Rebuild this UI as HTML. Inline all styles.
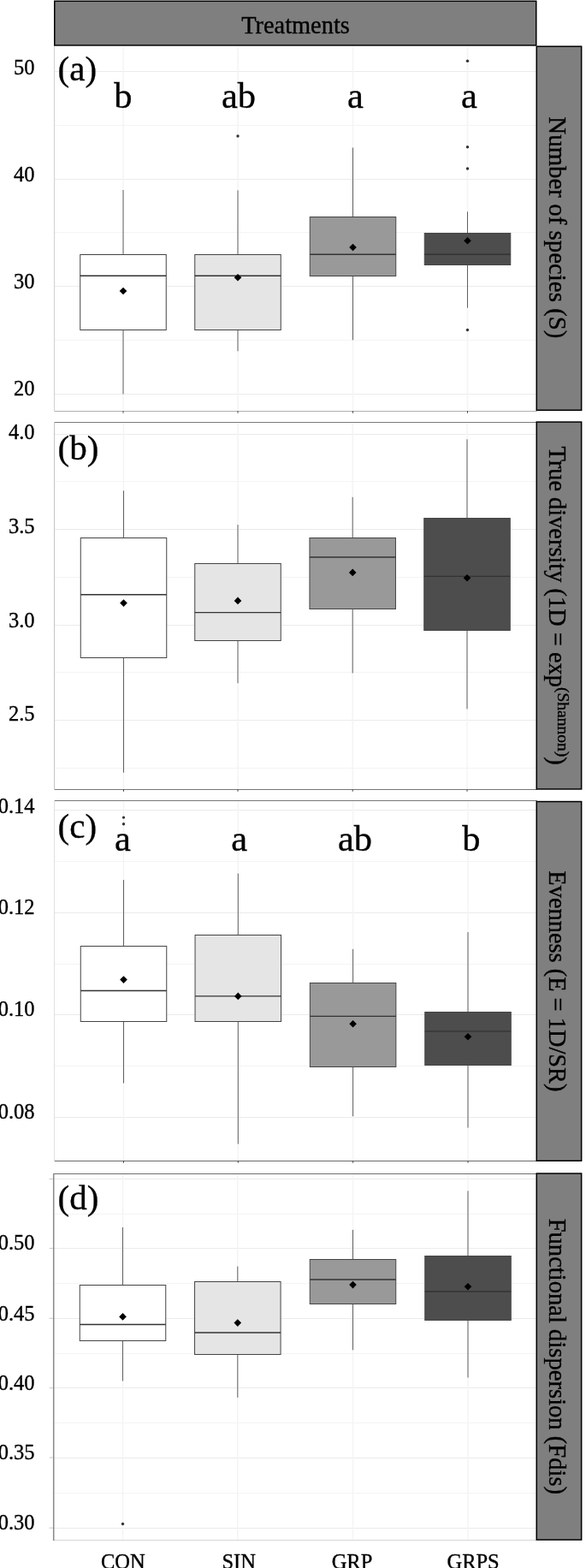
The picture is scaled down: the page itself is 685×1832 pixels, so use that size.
<!DOCTYPE html><html><head><meta charset="utf-8"><title>Boxplots</title>
<style>html,body{margin:0;padding:0;background:#fff;overflow:hidden;}svg{display:block;}text{font-family:'Liberation Serif', 'Times New Roman', serif;fill:#000;stroke:#000;stroke-width:0.35px;}</style></head><body>
<svg width="685" height="1832" viewBox="0 0 685 1832">
<rect x="0" y="0" width="685" height="1832" fill="#fff"/>
<g>
<line x1="63" y1="146.5" x2="628" y2="146.5" stroke="#f4f4f4" stroke-width="1"/>
<line x1="63" y1="271.5" x2="628" y2="271.5" stroke="#f4f4f4" stroke-width="1"/>
<line x1="63" y1="397.5" x2="628" y2="397.5" stroke="#f4f4f4" stroke-width="1"/>
<line x1="63" y1="83.5" x2="628" y2="83.5" stroke="#ebebeb" stroke-width="1"/>
<line x1="63" y1="209.5" x2="628" y2="209.5" stroke="#ebebeb" stroke-width="1"/>
<line x1="63" y1="334.5" x2="628" y2="334.5" stroke="#ebebeb" stroke-width="1"/>
<line x1="63" y1="460.5" x2="628" y2="460.5" stroke="#ebebeb" stroke-width="1"/>
<line x1="144" y1="53.5" x2="144" y2="480.2" stroke="#f4f4f4" stroke-width="1.5"/>
<line x1="278" y1="53.5" x2="278" y2="480.2" stroke="#f4f4f4" stroke-width="1.5"/>
<line x1="412.5" y1="53.5" x2="412.5" y2="480.2" stroke="#f4f4f4" stroke-width="1.5"/>
<line x1="546.5" y1="53.5" x2="546.5" y2="480.2" stroke="#f4f4f4" stroke-width="1.5"/>
<line x1="144" y1="222" x2="144" y2="297.3" stroke="#606060" stroke-width="1"/>
<line x1="144" y1="385" x2="144" y2="460.4" stroke="#606060" stroke-width="1"/>
<rect x="93.75" y="297.5" width="100.5" height="88" fill="#ffffff" stroke="#444" stroke-width="1"/>
<line x1="93.75" y1="322.2" x2="194.25" y2="322.2" stroke="#333" stroke-width="1.4"/>
<path d="M144 335.7L148.3 340L144 344.3L139.7 340Z" fill="#000"/>
<line x1="278" y1="222.4" x2="278" y2="297.3" stroke="#606060" stroke-width="1"/>
<line x1="278" y1="385" x2="278" y2="410.3" stroke="#606060" stroke-width="1"/>
<rect x="227.75" y="297.5" width="100.5" height="88" fill="#e5e5e5" stroke="#444" stroke-width="1"/>
<line x1="227.75" y1="322.2" x2="328.25" y2="322.2" stroke="#333" stroke-width="1.4"/>
<circle cx="278" cy="159" r="1.7" fill="#333"/>
<path d="M278 320L282.3 324.3L278 328.6L273.7 324.3Z" fill="#000"/>
<line x1="412.5" y1="172.5" x2="412.5" y2="253.4" stroke="#606060" stroke-width="1"/>
<line x1="412.5" y1="322.1" x2="412.5" y2="397.3" stroke="#606060" stroke-width="1"/>
<rect x="362.25" y="253.5" width="100.5" height="69" fill="#999999" stroke="#444" stroke-width="1"/>
<line x1="362.25" y1="297.2" x2="462.75" y2="297.2" stroke="#333" stroke-width="1.4"/>
<path d="M412.5 284.7L416.8 289L412.5 293.3L408.2 289Z" fill="#000"/>
<line x1="546.5" y1="247.3" x2="546.5" y2="272.2" stroke="#606060" stroke-width="1"/>
<line x1="546.5" y1="309.4" x2="546.5" y2="359.7" stroke="#606060" stroke-width="1"/>
<rect x="496.25" y="272.5" width="100.5" height="37" fill="#4d4d4d" stroke="#444" stroke-width="1"/>
<line x1="496.25" y1="297.2" x2="596.75" y2="297.2" stroke="#333" stroke-width="1.4"/>
<circle cx="546.5" cy="71.2" r="1.7" fill="#333"/>
<circle cx="546.5" cy="171.7" r="1.7" fill="#333"/>
<circle cx="546.5" cy="197" r="1.7" fill="#333"/>
<circle cx="546.5" cy="385.5" r="1.7" fill="#333"/>
<path d="M546.5 276.9L550.8 281.2L546.5 285.5L542.2 281.2Z" fill="#000"/>
<line x1="63" y1="480.5" x2="628" y2="480.5" stroke="#b0b0b0" stroke-width="1"/>
<line x1="63.5" y1="53" x2="63.5" y2="481" stroke="#d0d0d0" stroke-width="1"/>
<line x1="144" y1="480.2" x2="144" y2="482.7" stroke="#444" stroke-width="1"/>
<line x1="278" y1="480.2" x2="278" y2="482.7" stroke="#444" stroke-width="1"/>
<line x1="412.5" y1="480.2" x2="412.5" y2="482.7" stroke="#444" stroke-width="1"/>
<line x1="546.5" y1="480.2" x2="546.5" y2="482.7" stroke="#444" stroke-width="1"/>
<text x="40.6" y="87.1" font-size="24.5" text-anchor="end">50</text>
<text x="40.6" y="212.4" font-size="24.5" text-anchor="end">40</text>
<text x="40.6" y="336.8" font-size="24.5" text-anchor="end">30</text>
<text x="40.6" y="462" font-size="24.5" text-anchor="end">20</text>
<text x="67.6" y="94.2" font-size="41">(a)</text>
<text x="143.9" y="126.3" font-size="42.5" text-anchor="middle">b</text>
<text x="278.95" y="126.3" font-size="42.5" text-anchor="middle">ab</text>
<text x="415.4" y="126.3" font-size="42.5" text-anchor="middle">a</text>
<text x="548.35" y="126.3" font-size="42.5" text-anchor="middle">a</text>
<rect x="627.25" y="54.25" width="52.4" height="425" fill="#7f7f7f" stroke="#000" stroke-width="1.5"/>
<text transform="translate(641.8 265.9) rotate(90)" font-size="28.9" text-anchor="middle">Number of species (S)</text>
</g>
<g>
<line x1="63" y1="562.5" x2="628" y2="562.5" stroke="#f4f4f4" stroke-width="1"/>
<line x1="63" y1="674.5" x2="628" y2="674.5" stroke="#f4f4f4" stroke-width="1"/>
<line x1="63" y1="785.5" x2="628" y2="785.5" stroke="#f4f4f4" stroke-width="1"/>
<line x1="63" y1="897.5" x2="628" y2="897.5" stroke="#f4f4f4" stroke-width="1"/>
<line x1="63" y1="507.5" x2="628" y2="507.5" stroke="#ebebeb" stroke-width="1"/>
<line x1="63" y1="618.5" x2="628" y2="618.5" stroke="#ebebeb" stroke-width="1"/>
<line x1="63" y1="730.5" x2="628" y2="730.5" stroke="#ebebeb" stroke-width="1"/>
<line x1="63" y1="841.5" x2="628" y2="841.5" stroke="#ebebeb" stroke-width="1"/>
<line x1="144.5" y1="493.5" x2="144.5" y2="922.3" stroke="#f4f4f4" stroke-width="1.5"/>
<line x1="278" y1="493.5" x2="278" y2="922.3" stroke="#f4f4f4" stroke-width="1.5"/>
<line x1="412.2" y1="493.5" x2="412.2" y2="922.3" stroke="#f4f4f4" stroke-width="1.5"/>
<line x1="546" y1="493.5" x2="546" y2="922.3" stroke="#f4f4f4" stroke-width="1.5"/>
<line x1="144.5" y1="573.3" x2="144.5" y2="628.3" stroke="#606060" stroke-width="1"/>
<line x1="144.5" y1="768" x2="144.5" y2="902.7" stroke="#606060" stroke-width="1"/>
<rect x="94.25" y="628.5" width="100.5" height="140" fill="#ffffff" stroke="#444" stroke-width="1"/>
<line x1="94.25" y1="694.7" x2="194.75" y2="694.7" stroke="#333" stroke-width="1.4"/>
<path d="M144.5 700.3L148.8 704.6L144.5 708.9L140.2 704.6Z" fill="#000"/>
<line x1="278" y1="613.1" x2="278" y2="658.7" stroke="#606060" stroke-width="1"/>
<line x1="278" y1="748.6" x2="278" y2="798.3" stroke="#606060" stroke-width="1"/>
<rect x="227.75" y="658.5" width="100.5" height="90" fill="#e5e5e5" stroke="#444" stroke-width="1"/>
<line x1="227.75" y1="715.6" x2="328.25" y2="715.6" stroke="#333" stroke-width="1.4"/>
<path d="M278 697.6L282.3 701.9L278 706.2L273.7 701.9Z" fill="#000"/>
<line x1="412.2" y1="580.8" x2="412.2" y2="628.3" stroke="#606060" stroke-width="1"/>
<line x1="412.2" y1="711.8" x2="412.2" y2="786.5" stroke="#606060" stroke-width="1"/>
<rect x="361.95" y="628.5" width="100.5" height="83" fill="#999999" stroke="#444" stroke-width="1"/>
<line x1="361.95" y1="651" x2="462.45" y2="651" stroke="#333" stroke-width="1.4"/>
<path d="M412.2 664.6L416.5 668.9L412.2 673.2L407.9 668.9Z" fill="#000"/>
<line x1="546" y1="513.3" x2="546" y2="605.2" stroke="#606060" stroke-width="1"/>
<line x1="546" y1="736" x2="546" y2="828.3" stroke="#606060" stroke-width="1"/>
<rect x="495.75" y="605.5" width="100.5" height="131" fill="#4d4d4d" stroke="#444" stroke-width="1"/>
<line x1="495.75" y1="673.4" x2="596.25" y2="673.4" stroke="#333" stroke-width="1.4"/>
<path d="M546 671L550.3 675.3L546 679.6L541.7 675.3Z" fill="#000"/>
<line x1="63" y1="493.5" x2="628" y2="493.5" stroke="#7a7a7a" stroke-width="1"/>
<line x1="63" y1="922.5" x2="628" y2="922.5" stroke="#777777" stroke-width="1"/>
<line x1="63.5" y1="493" x2="63.5" y2="923" stroke="#c4c4c4" stroke-width="1"/>
<line x1="144.5" y1="922.3" x2="144.5" y2="924.8" stroke="#444" stroke-width="1"/>
<line x1="278" y1="922.3" x2="278" y2="924.8" stroke="#444" stroke-width="1"/>
<line x1="412.2" y1="922.3" x2="412.2" y2="924.8" stroke="#444" stroke-width="1"/>
<line x1="546" y1="922.3" x2="546" y2="924.8" stroke="#444" stroke-width="1"/>
<text x="40.6" y="512.7" font-size="24.5" text-anchor="end">4.0</text>
<text x="40.6" y="622.9" font-size="24.5" text-anchor="end">3.5</text>
<text x="40.6" y="732.5" font-size="24.5" text-anchor="end">3.0</text>
<text x="40.6" y="842.2" font-size="24.5" text-anchor="end">2.5</text>
<text x="67.6" y="537.2" font-size="41">(b)</text>
<rect x="627.25" y="493.05" width="52.4" height="428.9" fill="#7f7f7f" stroke="#000" stroke-width="1.5"/>
<text transform="translate(641.8 707.5) rotate(90)" font-size="28.4" text-anchor="middle">True diversity (1D = exp<tspan font-size="19.5" dy="-10">(Shannon)</tspan><tspan dy="10">)</tspan></text>
</g>
<g>
<line x1="63" y1="1006.5" x2="628" y2="1006.5" stroke="#f4f4f4" stroke-width="1"/>
<line x1="63" y1="1126.5" x2="628" y2="1126.5" stroke="#f4f4f4" stroke-width="1"/>
<line x1="63" y1="1245.5" x2="628" y2="1245.5" stroke="#f4f4f4" stroke-width="1"/>
<line x1="63" y1="946.5" x2="628" y2="946.5" stroke="#ebebeb" stroke-width="1"/>
<line x1="63" y1="1066.5" x2="628" y2="1066.5" stroke="#ebebeb" stroke-width="1"/>
<line x1="63" y1="1185.5" x2="628" y2="1185.5" stroke="#ebebeb" stroke-width="1"/>
<line x1="63" y1="1305.5" x2="628" y2="1305.5" stroke="#ebebeb" stroke-width="1"/>
<line x1="144.5" y1="935.7" x2="144.5" y2="1356.3" stroke="#f4f4f4" stroke-width="1.5"/>
<line x1="278.3" y1="935.7" x2="278.3" y2="1356.3" stroke="#f4f4f4" stroke-width="1.5"/>
<line x1="412.6" y1="935.7" x2="412.6" y2="1356.3" stroke="#f4f4f4" stroke-width="1.5"/>
<line x1="547" y1="935.7" x2="547" y2="1356.3" stroke="#f4f4f4" stroke-width="1.5"/>
<line x1="144.5" y1="1028" x2="144.5" y2="1105.8" stroke="#606060" stroke-width="1"/>
<line x1="144.5" y1="1193.1" x2="144.5" y2="1265.6" stroke="#606060" stroke-width="1"/>
<rect x="94.25" y="1105.5" width="100.5" height="88" fill="#ffffff" stroke="#444" stroke-width="1"/>
<line x1="94.25" y1="1157.5" x2="194.75" y2="1157.5" stroke="#333" stroke-width="1.4"/>
<circle cx="144.5" cy="955.1" r="1.7" fill="#333"/>
<circle cx="144.5" cy="962.7" r="1.7" fill="#333"/>
<path d="M144.5 1140.3L148.8 1144.6L144.5 1148.9L140.2 1144.6Z" fill="#000"/>
<line x1="278.3" y1="1020.5" x2="278.3" y2="1092.9" stroke="#606060" stroke-width="1"/>
<line x1="278.3" y1="1193.5" x2="278.3" y2="1336.6" stroke="#606060" stroke-width="1"/>
<rect x="228.05" y="1092.5" width="100.5" height="101" fill="#e5e5e5" stroke="#444" stroke-width="1"/>
<line x1="228.05" y1="1163.9" x2="328.55" y2="1163.9" stroke="#333" stroke-width="1.4"/>
<path d="M278.3 1159.6L282.6 1163.9L278.3 1168.2L274 1163.9Z" fill="#000"/>
<line x1="412.6" y1="1108.9" x2="412.6" y2="1148" stroke="#606060" stroke-width="1"/>
<line x1="412.6" y1="1246.6" x2="412.6" y2="1304.3" stroke="#606060" stroke-width="1"/>
<rect x="362.35" y="1148.5" width="100.5" height="98" fill="#999999" stroke="#444" stroke-width="1"/>
<line x1="362.35" y1="1187.4" x2="462.85" y2="1187.4" stroke="#333" stroke-width="1.4"/>
<path d="M412.6 1191.9L416.9 1196.2L412.6 1200.5L408.3 1196.2Z" fill="#000"/>
<line x1="547" y1="1089.1" x2="547" y2="1182.1" stroke="#606060" stroke-width="1"/>
<line x1="547" y1="1244.7" x2="547" y2="1317.6" stroke="#606060" stroke-width="1"/>
<rect x="496.75" y="1182.5" width="100.5" height="62" fill="#4d4d4d" stroke="#444" stroke-width="1"/>
<line x1="496.75" y1="1204.9" x2="597.25" y2="1204.9" stroke="#333" stroke-width="1.4"/>
<path d="M547 1207L551.3 1211.3L547 1215.6L542.7 1211.3Z" fill="#000"/>
<line x1="63" y1="935.5" x2="628" y2="935.5" stroke="#777777" stroke-width="1"/>
<line x1="63" y1="1356.5" x2="628" y2="1356.5" stroke="#6a6a6a" stroke-width="1"/>
<line x1="63.5" y1="935" x2="63.5" y2="1357" stroke="#e0e0e0" stroke-width="1"/>
<line x1="144.5" y1="1356.3" x2="144.5" y2="1358.8" stroke="#444" stroke-width="1"/>
<line x1="278.3" y1="1356.3" x2="278.3" y2="1358.8" stroke="#444" stroke-width="1"/>
<line x1="412.6" y1="1356.3" x2="412.6" y2="1358.8" stroke="#444" stroke-width="1"/>
<line x1="547" y1="1356.3" x2="547" y2="1358.8" stroke="#444" stroke-width="1"/>
<text x="40.6" y="950.4" font-size="24.5" text-anchor="end">0.14</text>
<text x="40.6" y="1068" font-size="24.5" text-anchor="end">0.12</text>
<text x="40.6" y="1187.3" font-size="24.5" text-anchor="end">0.10</text>
<text x="40.6" y="1306.9" font-size="24.5" text-anchor="end">0.08</text>
<text x="67.6" y="979" font-size="41">(c)</text>
<text x="143.5" y="994.3" font-size="42.5" text-anchor="middle">a</text>
<text x="279.7" y="994.3" font-size="42.5" text-anchor="middle">a</text>
<text x="415" y="994.3" font-size="42.5" text-anchor="middle">ab</text>
<text x="550.8" y="994.3" font-size="42.5" text-anchor="middle">b</text>
<rect x="627.25" y="936.55" width="52.4" height="419.7" fill="#7f7f7f" stroke="#000" stroke-width="1.5"/>
<text transform="translate(641.8 1146.4) rotate(90)" font-size="28.4" text-anchor="middle">Evenness (E = 1D/SR)</text>
</g>
<g>
<line x1="63" y1="1418.5" x2="628" y2="1418.5" stroke="#f4f4f4" stroke-width="1"/>
<line x1="63" y1="1499.5" x2="628" y2="1499.5" stroke="#f4f4f4" stroke-width="1"/>
<line x1="63" y1="1581.5" x2="628" y2="1581.5" stroke="#f4f4f4" stroke-width="1"/>
<line x1="63" y1="1662.5" x2="628" y2="1662.5" stroke="#f4f4f4" stroke-width="1"/>
<line x1="63" y1="1744.5" x2="628" y2="1744.5" stroke="#f4f4f4" stroke-width="1"/>
<line x1="63" y1="1377.5" x2="628" y2="1377.5" stroke="#ebebeb" stroke-width="1"/>
<line x1="63" y1="1458.5" x2="628" y2="1458.5" stroke="#ebebeb" stroke-width="1"/>
<line x1="63" y1="1540.5" x2="628" y2="1540.5" stroke="#ebebeb" stroke-width="1"/>
<line x1="63" y1="1621.5" x2="628" y2="1621.5" stroke="#ebebeb" stroke-width="1"/>
<line x1="63" y1="1703.5" x2="628" y2="1703.5" stroke="#ebebeb" stroke-width="1"/>
<line x1="63" y1="1785.5" x2="628" y2="1785.5" stroke="#ebebeb" stroke-width="1"/>
<line x1="143.5" y1="1371.5" x2="143.5" y2="1799.2" stroke="#f4f4f4" stroke-width="1.5"/>
<line x1="277.8" y1="1371.5" x2="277.8" y2="1799.2" stroke="#f4f4f4" stroke-width="1.5"/>
<line x1="412.5" y1="1371.5" x2="412.5" y2="1799.2" stroke="#f4f4f4" stroke-width="1.5"/>
<line x1="547" y1="1371.5" x2="547" y2="1799.2" stroke="#f4f4f4" stroke-width="1.5"/>
<line x1="143.5" y1="1434" x2="143.5" y2="1501.2" stroke="#606060" stroke-width="1"/>
<line x1="143.5" y1="1566.9" x2="143.5" y2="1613.5" stroke="#606060" stroke-width="1"/>
<rect x="93.25" y="1501.5" width="100.5" height="65" fill="#ffffff" stroke="#444" stroke-width="1"/>
<line x1="93.25" y1="1547.5" x2="193.75" y2="1547.5" stroke="#333" stroke-width="1.4"/>
<circle cx="143.5" cy="1780.5" r="1.7" fill="#333"/>
<path d="M143.5 1534.1L147.8 1538.4L143.5 1542.7L139.2 1538.4Z" fill="#000"/>
<line x1="277.8" y1="1479.6" x2="277.8" y2="1497" stroke="#606060" stroke-width="1"/>
<line x1="277.8" y1="1582" x2="277.8" y2="1632.9" stroke="#606060" stroke-width="1"/>
<rect x="227.55" y="1497.5" width="100.5" height="85" fill="#e5e5e5" stroke="#444" stroke-width="1"/>
<line x1="227.55" y1="1557" x2="328.05" y2="1557" stroke="#333" stroke-width="1.4"/>
<path d="M277.8 1541.3L282.1 1545.6L277.8 1549.9L273.5 1545.6Z" fill="#000"/>
<line x1="412.5" y1="1436.9" x2="412.5" y2="1471.8" stroke="#606060" stroke-width="1"/>
<line x1="412.5" y1="1523.1" x2="412.5" y2="1577.3" stroke="#606060" stroke-width="1"/>
<rect x="362.25" y="1471.5" width="100.5" height="52" fill="#999999" stroke="#444" stroke-width="1"/>
<line x1="362.25" y1="1495" x2="462.75" y2="1495" stroke="#333" stroke-width="1.4"/>
<path d="M412.5 1496.8L416.8 1501.1L412.5 1505.4L408.2 1501.1Z" fill="#000"/>
<line x1="547" y1="1391.4" x2="547" y2="1467.7" stroke="#606060" stroke-width="1"/>
<line x1="547" y1="1542.4" x2="547" y2="1609.6" stroke="#606060" stroke-width="1"/>
<rect x="496.75" y="1467.5" width="100.5" height="75" fill="#4d4d4d" stroke="#444" stroke-width="1"/>
<line x1="496.75" y1="1509" x2="597.25" y2="1509" stroke="#333" stroke-width="1.4"/>
<path d="M547 1499L551.3 1503.3L547 1507.6L542.7 1503.3Z" fill="#000"/>
<line x1="63" y1="1371.5" x2="628" y2="1371.5" stroke="#6e6e6e" stroke-width="1"/>
<line x1="63" y1="1799.5" x2="628" y2="1799.5" stroke="#d6d6d6" stroke-width="1"/>
<line x1="62.7" y1="1371" x2="62.7" y2="1800" stroke="#888888" stroke-width="1.5"/>
<line x1="57.5" y1="1377.5" x2="62" y2="1377.5" stroke="#c8c8c8" stroke-width="1"/>
<line x1="57.5" y1="1458.6" x2="62" y2="1458.6" stroke="#c8c8c8" stroke-width="1"/>
<line x1="57.5" y1="1540.3" x2="62" y2="1540.3" stroke="#c8c8c8" stroke-width="1"/>
<line x1="57.5" y1="1621.7" x2="62" y2="1621.7" stroke="#c8c8c8" stroke-width="1"/>
<line x1="57.5" y1="1703" x2="62" y2="1703" stroke="#c8c8c8" stroke-width="1"/>
<line x1="57.5" y1="1785.2" x2="62" y2="1785.2" stroke="#c8c8c8" stroke-width="1"/>
<text x="40.6" y="1459.5" font-size="24.5" text-anchor="end">0.50</text>
<text x="40.6" y="1542.5" font-size="24.5" text-anchor="end">0.45</text>
<text x="40.6" y="1623.9" font-size="24.5" text-anchor="end">0.40</text>
<text x="40.6" y="1705.1" font-size="24.5" text-anchor="end">0.35</text>
<text x="40.6" y="1786.9" font-size="24.5" text-anchor="end">0.30</text>
<text x="67.6" y="1412.9" font-size="41">(d)</text>
<rect x="627.25" y="1371.05" width="52.4" height="428" fill="#7f7f7f" stroke="#000" stroke-width="1.5"/>
<text transform="translate(641.8 1584.9) rotate(90)" font-size="28.6" text-anchor="middle">Functional dispersion (Fdis)</text>
</g>
<rect x="63.75" y="1.3" width="563" height="51.65" fill="#7f7f7f" stroke="#000" stroke-width="1.5"/>
<text x="345.5" y="39" font-size="28.4" text-anchor="middle">Treatments</text>
<text x="143.9" y="1832.8" font-size="24.5" text-anchor="middle">CON</text>
<text x="279.2" y="1832.8" font-size="24.5" text-anchor="middle">SIN</text>
<text x="411.5" y="1832.8" font-size="24.5" text-anchor="middle">GRP</text>
<text x="553.1" y="1832.8" font-size="24.5" text-anchor="middle">GRPS</text>
</svg></body></html>
